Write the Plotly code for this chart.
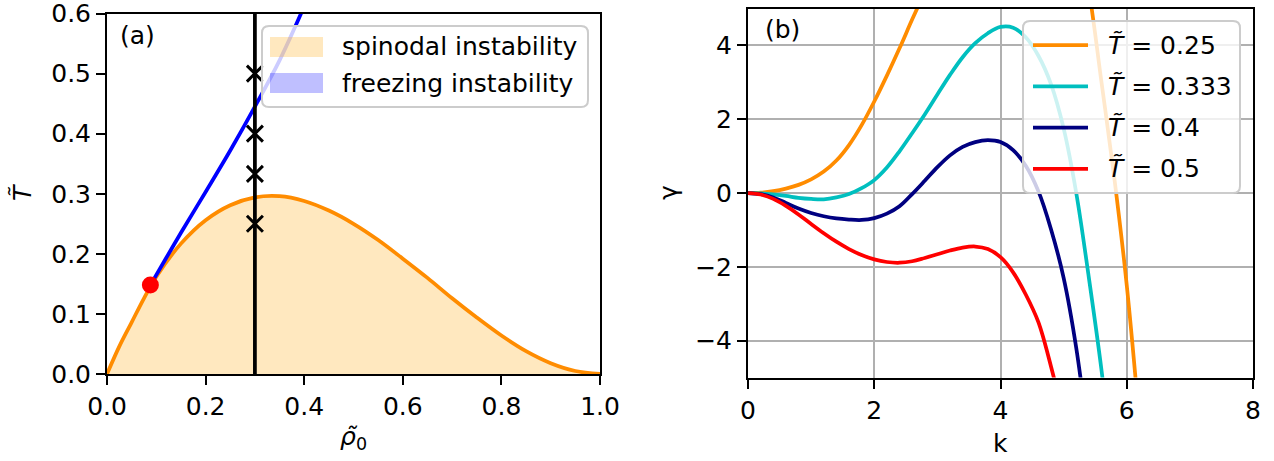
import plotly.graph_objects as go

W, H = 1274, 461
FONT = "DejaVu Sans"

# ---------------- (a) stability diagram ----------------
rho_spinodal = [0.0, 0.025, 0.05, 0.075, 0.1, 0.15, 0.2, 0.25, 0.3, 0.35, 0.4, 0.45,
                0.5, 0.55, 0.6, 0.65, 0.7, 0.75, 0.8, 0.85, 0.9, 0.95, 1.0]
T_spinodal = [0.0, 0.046, 0.086, 0.126, 0.162, 0.217, 0.256, 0.281, 0.294, 0.296, 0.288, 0.272,
              0.250, 0.223, 0.192, 0.160, 0.126, 0.094, 0.064, 0.038, 0.018, 0.005, 0.0]

rho_freezing = [0.088, 0.12, 0.15, 0.2, 0.25, 0.3, 0.35, 0.4]
T_freezing = [0.148, 0.193, 0.235, 0.303, 0.372, 0.445, 0.522, 0.612]

rho_meeting = [0.088]
T_meeting = [0.148]

rho_scan = 0.3
T_scan = [0.25, 0.333, 0.4, 0.5]

# ---------------- (b) growth rate gamma(k) ----------------
T_labels = ["0.25", "0.333", "0.4", "0.5"]
T_colors = ["darkorange", "#00bfbf", "navy", "red"]

k_T025 = [0.0, 0.2, 0.4, 0.6, 0.8, 1.0, 1.2, 1.4, 1.6, 1.8, 2.0, 2.2, 2.4, 2.6, 2.8, 3.0,
          3.2, 3.4, 3.6, 3.8, 4.0, 4.2, 4.4, 4.6, 4.8, 5.0, 5.2, 5.4, 5.6, 5.8, 6.0, 6.2]
g_T025 = [0.0, 0.01, 0.05, 0.12, 0.22, 0.37, 0.58, 0.88, 1.30, 1.84, 2.48, 3.18, 3.92, 4.70,
          5.45, 6.2, 6.9, 7.55, 8.15, 8.65, 9.05, 9.3, 9.4, 9.35, 9.1, 8.5, 7.3, 5.5, 3.0,
          0.45, -2.5, -6.2]

k_T0333 = [0.0, 0.2, 0.4, 0.6, 0.8, 1.0, 1.2, 1.4, 1.6, 1.8, 2.0, 2.2, 2.4, 2.6, 2.8, 3.0,
           3.2, 3.4, 3.6, 3.8, 4.0, 4.2, 4.4, 4.6, 4.8, 5.0, 5.2, 5.4, 5.6, 5.8]
g_T0333 = [0.0, -0.01, -0.04, -0.08, -0.13, -0.16, -0.17, -0.12, -0.03, 0.13, 0.35, 0.69,
           1.13, 1.62, 2.13, 2.67, 3.20, 3.68, 4.06, 4.33, 4.50, 4.48, 4.22, 3.72, 2.95,
           1.75, 0.0, -2.3, -4.8, -7.8]

k_T04 = [0.0, 0.2, 0.4, 0.6, 0.8, 1.0, 1.2, 1.4, 1.6, 1.8, 2.0, 2.2, 2.4, 2.6, 2.8, 3.0,
         3.2, 3.4, 3.6, 3.8, 4.0, 4.2, 4.4, 4.6, 4.8, 5.0, 5.2, 5.4]
g_T04 = [0.0, -0.03, -0.12, -0.27, -0.42, -0.54, -0.63, -0.69, -0.72, -0.73, -0.68, -0.56,
         -0.36, -0.03, 0.33, 0.70, 1.02, 1.25, 1.38, 1.43, 1.38, 1.16, 0.74, 0.05, -0.98,
         -2.3, -4.2, -6.8]

k_T05 = [0.0, 0.2, 0.4, 0.6, 0.8, 1.0, 1.2, 1.4, 1.6, 1.8, 2.0, 2.2, 2.4, 2.6, 2.8, 3.0,
         3.2, 3.4, 3.6, 3.8, 4.0, 4.2, 4.4, 4.6, 4.8, 5.0]
g_T05 = [0.0, -0.04, -0.16, -0.35, -0.58, -0.84, -1.09, -1.32, -1.52, -1.68, -1.80, -1.87,
         -1.89, -1.85, -1.76, -1.66, -1.56, -1.48, -1.45, -1.52, -1.74, -2.15, -2.75, -3.5,
         -4.7, -6.1]

k_series = [k_T025, k_T0333, k_T04, k_T05]
g_series = [g_T025, g_T0333, g_T04, g_T05]


def px(x):
    return x / W


def py(y):
    return 1 - y / H


LW = 3.75
fig = go.Figure()

# spinodal region and boundary
fig.add_trace(go.Scatter(x=rho_spinodal, y=T_spinodal, mode="lines", fill="tozeroy",
                         fillcolor="rgba(255,165,0,0.25)",
                         line=dict(color="darkorange", width=LW, shape="spline"),
                         xaxis="x", yaxis="y", showlegend=False))
# freezing boundary
fig.add_trace(go.Scatter(x=rho_freezing, y=T_freezing, mode="lines",
                         line=dict(color="blue", width=LW, shape="spline"),
                         xaxis="x", yaxis="y", showlegend=False))
# density cut
fig.add_trace(go.Scatter(x=[rho_scan, rho_scan], y=[0, 0.6], mode="lines",
                         line=dict(color="black", width=LW),
                         xaxis="x", yaxis="y", showlegend=False))
fig.add_trace(go.Scatter(x=[rho_scan] * len(T_scan), y=T_scan, mode="markers",
                         marker=dict(symbol="x-thin", size=16, line=dict(color="black", width=3)),
                         xaxis="x", yaxis="y", showlegend=False))
fig.add_trace(go.Scatter(x=rho_meeting, y=T_meeting, mode="markers",
                         marker=dict(symbol="circle", size=17, color="red"),
                         xaxis="x", yaxis="y", showlegend=False))

# growth-rate curves
for ks, gs, c in zip(k_series, g_series, T_colors):
    fig.add_trace(go.Scatter(x=ks, y=gs, mode="lines",
                             line=dict(color=c, width=LW, shape="spline", smoothing=1),
                             xaxis="x2", yaxis="y2", showlegend=False))

axis_common = dict(showline=True, linecolor="black", linewidth=2, mirror=True,
                   ticks="outside", ticklen=9, tickwidth=2, tickcolor="black",
                   tickfont=dict(family=FONT, size=25, color="black"), zeroline=False,
                   automargin=False, ticklabeloverflow="allow")

fig.update_layout(
    width=W, height=H, margin=dict(l=0, r=0, t=0, b=0),
    paper_bgcolor="white", plot_bgcolor="white",
    xaxis=dict(domain=[px(107), px(600)], range=[0, 1], anchor="y", showgrid=False,
               tickvals=[0, 0.2, 0.4, 0.6, 0.8, 1.0],
               ticktext=["0.0", "0.2", "0.4", "0.6", "0.8", "1.0"], **axis_common),
    yaxis=dict(domain=[py(374), py(13.5)], range=[0, 0.6], anchor="x", showgrid=False,
               tickvals=[0, 0.1, 0.2, 0.3, 0.4, 0.5, 0.6],
               ticktext=["0.0", "0.1", "0.2", "0.3", "0.4", "0.5", "0.6"], **axis_common),
    xaxis2=dict(domain=[px(748), px(1253)], range=[0, 8], anchor="y2",
                tickvals=[0, 2, 4, 6, 8], showgrid=True, gridcolor="#b0b0b0", gridwidth=2,
                **axis_common),
    yaxis2=dict(domain=[py(377.5), py(8.5)], range=[-5, 5], anchor="x2",
                tickvals=[-4, -2, 0, 2, 4], showgrid=True, gridcolor="#b0b0b0", gridwidth=2,
                **axis_common),
)

shapes = []
annotations = []


def text(x, y, s, **kw):
    d = dict(x=px(x), y=py(y), xref="paper", yref="paper", text=s, showarrow=False,
             font=dict(family=FONT, size=25, color="black"), xanchor="left", yanchor="middle")
    d.update(kw)
    annotations.append(d)


def rounded_box(left, top, right, bottom, r=7):
    """Legend frame with rounded corners, given in pixels."""
    x0, x1 = px(left), px(right)
    y0, y1 = py(bottom), py(top)
    rx, ry = r / W, r / H
    path = (f"M {x0 + rx},{y1} L {x1 - rx},{y1} Q {x1},{y1} {x1},{y1 - ry} "
            f"L {x1},{y0 + ry} Q {x1},{y0} {x1 - rx},{y0} "
            f"L {x0 + rx},{y0} Q {x0},{y0} {x0},{y0 + ry} "
            f"L {x0},{y1 - ry} Q {x0},{y1} {x0 + rx},{y1} Z")
    return dict(type="path", xref="paper", yref="paper", path=path,
                fillcolor="rgba(255,255,255,0.8)", line=dict(color="#cccccc", width=2),
                layer="above")


# legend of (a)
shapes.append(rounded_box(262, 26, 588, 107))
shapes.append(dict(type="rect", xref="paper", yref="paper", x0=px(270), x1=px(323),
                   y0=py(57), y1=py(37), fillcolor="rgba(255,165,0,0.25)",
                   line=dict(width=0), layer="above"))
shapes.append(dict(type="rect", xref="paper", yref="paper", x0=px(270), x1=px(323),
                   y0=py(93), y1=py(73), fillcolor="rgba(0,0,255,0.25)",
                   line=dict(width=0), layer="above"))
text(340, 47, "spinodal instability")
text(340, 83, "freezing instability")

# legend of (b)
shapes.append(rounded_box(1023, 21, 1240, 193))
for i, (lab, c) in enumerate(zip(T_labels, T_colors)):
    yy = 45 + i * 41.3
    shapes.append(dict(type="line", xref="paper", yref="paper", x0=px(1033), x1=px(1088),
                       y0=py(yy), y1=py(yy), line=dict(color=c, width=LW), layer="above"))
    text(1106, yy, "<i>T\u0303</i> = " + lab)

# panel tags
text(118, 36, "(a)")
text(763, 30, "(b)")

# axis titles
text(353, 438, "<i>\u03c1\u0303</i><sub>0</sub>", xanchor="center")
text(1000, 443, "k", xanchor="center")
text(22, 193, "<i>T\u0303</i>", xanchor="center", textangle=-90)
text(668, 193, "\u03b3", xanchor="center", textangle=-90)

fig.update_layout(shapes=shapes, annotations=annotations)
fig.write_html("out.html")
